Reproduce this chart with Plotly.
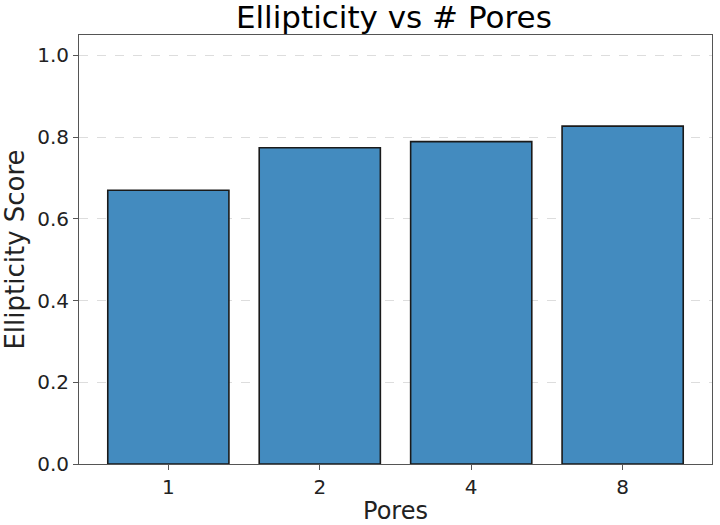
import plotly.graph_objects as go

categories = ["1", "2", "4", "8"]
scores = [0.670, 0.774, 0.789, 0.827]
y_ticks = [0.0, 0.2, 0.4, 0.6, 0.8, 1.0]
y_tick_labels = ["0.0", "0.2", "0.4", "0.6", "0.8", "1.0"]

font = "DejaVu Sans"

fig = go.Figure()
fig.add_trace(go.Bar(
    x=list(range(len(categories))),
    y=scores,
    width=0.8,
    marker=dict(color="#438bbf", line=dict(color="#1a1a1a", width=1.6)),
))

fig.update_layout(
    width=720, height=525,
    margin=dict(l=79, r=8, t=35, b=61),
    paper_bgcolor="white", plot_bgcolor="white",
    showlegend=False,
    font=dict(family=font, color="black"),
    title=dict(text="Ellipticity vs # Pores", x=0.547, xanchor="center",
               y=0.967, yanchor="middle", font=dict(size=31, family=font, color="black")),
    xaxis=dict(
        range=[-0.59, 3.59], automargin=False,
        tickmode="array", tickvals=list(range(len(categories))), ticktext=categories,
        showgrid=False, zeroline=False,
        showline=True, linecolor="#555555", linewidth=1, mirror=True,
        ticks="outside", ticklen=5, tickcolor="#555555",
        tickfont=dict(size=20, family=font, color="#222222"),
        title=dict(text="Pores", font=dict(size=24, family=font, color="#222222"), standoff=4),
    ),
    yaxis=dict(
        range=[0, 1.05], automargin=False,
        tickmode="array", tickvals=y_ticks, ticktext=y_tick_labels,
        showgrid=True, gridcolor="#dddddd", griddash="dash", gridwidth=1,
        zeroline=False,
        showline=True, linecolor="#555555", linewidth=1, mirror=True,
        ticks="outside", ticklen=5, tickcolor="#555555",
        tickfont=dict(size=20, family=font, color="#222222"),
        title=dict(text="Ellipticity Score", font=dict(size=26, family=font, color="#222222"), standoff=6),
    ),
)

fig.write_html("out.html")
